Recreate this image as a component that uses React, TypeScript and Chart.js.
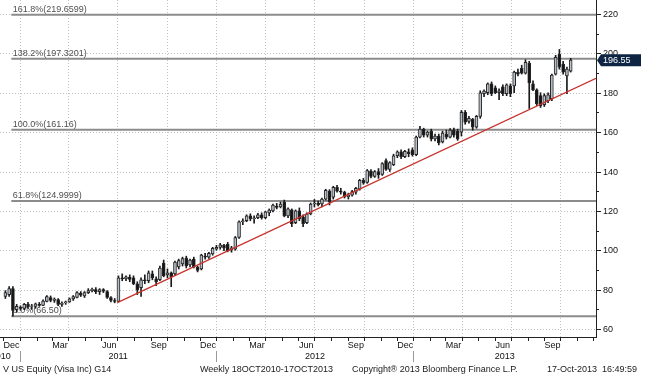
import { useEffect, useRef } from 'react';
import { Chart, registerables } from 'chart.js';

Chart.register(...registerables);

const EPOCH = Date.UTC(2011, 0, 1);
const toDay = (iso: string) => {
  const [y, m, d] = iso.split('-').map(Number);
  return (Date.UTC(y, m - 1, d) - EPOCH) / 86400000;
};

// weekly bars, week ending dates start here and step by one week
const firstWeekEnding = '2010-12-05';

const opens = [
  76.5, 77.5, 80.5, 69.8, 71.0, 70.5, 72.5, 71.5, 71.5, 72.5,
  72.0, 74.0, 76.0, 74.5, 75.0, 72.5, 73.2, 73.8, 75.3, 76.0,
  78.2, 76.8, 78.5, 79.5, 80.0, 79.0, 80.0, 79.0, 76.0, 74.5,
  74.0, 86.0, 85.5, 86.2, 86.0, 83.0, 81.0, 85.0, 84.5, 88.0,
  85.5, 85.0, 93.5, 87.5, 88.5, 88.0, 91.5, 93.0, 96.0, 92.5,
  95.5, 91.5, 90.5, 97.0, 96.5, 98.2, 100.5, 101.5, 102.5, 103.0,
  100.0, 100.5, 106.5, 114.5, 115.0, 117.5, 116.0, 116.5, 118.0, 116.5,
  119.0, 120.0, 122.5, 122.0, 124.5, 117.5, 120.5, 114.0, 120.0, 117.0,
  114.0, 118.5, 123.5, 124.0, 123.5, 126.0, 130.0, 127.0, 132.0, 130.0,
  129.5, 127.2, 128.0, 129.5, 131.0, 135.5, 134.5, 140.2, 137.5, 140.0,
  138.5, 145.5, 141.0, 143.5, 148.0, 150.0, 147.5, 150.0, 151.0, 148.5,
  157.5, 161.5, 158.5, 160.5, 156.5, 158.0, 155.0, 159.0, 157.5, 161.0,
  160.5, 160.0, 170.0, 165.5, 166.5, 162.5, 168.0, 179.5, 180.0, 184.5,
  182.5, 180.0, 183.0, 179.5, 183.5, 183.5, 190.5, 192.4, 190.0, 195.0,
  184.5, 181.5, 178.5, 174.0, 176.0, 177.0, 189.5, 199.5, 194.5, 188.5,
  191.0,
];
const highs = [
  79.5, 81.5, 81.5, 72.5, 71.8, 73.0, 73.5, 72.5, 73.2, 73.5,
  74.8, 77.0, 76.8, 75.8, 75.5, 73.8, 74.2, 75.8, 77.0, 79.0,
  79.0, 79.0, 80.5, 80.8, 81.0, 80.5, 80.5, 79.5, 76.5, 75.5,
  87.0, 88.0, 87.0, 87.5, 87.0, 84.0, 86.0, 87.5, 89.5, 89.5,
  86.5, 92.0, 95.0, 90.5, 89.0, 94.5, 95.5, 96.5, 97.0, 95.5,
  96.5, 92.0, 98.0, 98.5, 99.0, 101.5, 102.5, 103.5, 103.0, 104.0,
  102.0, 107.0, 115.0, 116.0, 118.0, 118.5, 117.5, 118.8, 119.0, 119.8,
  121.0, 123.5, 123.8, 124.5, 125.5, 121.5, 121.0, 120.5, 121.5, 118.0,
  119.0, 124.0, 125.8, 125.0, 126.5, 131.0, 130.8, 132.5, 133.0, 131.5,
  130.0, 129.0, 130.5, 132.0, 136.0, 136.5, 141.0, 141.0, 140.5, 141.5,
  144.5, 146.5, 145.0, 148.8, 150.5, 151.0, 150.8, 151.5, 152.0, 158.0,
  163.0, 162.0, 160.5, 161.5, 159.0, 159.0, 160.5, 161.0, 161.8, 162.0,
  161.5, 171.0, 171.0, 168.0, 167.0, 168.5, 181.0, 181.5, 185.0, 185.5,
  183.5, 182.0, 184.0, 184.5, 184.5, 191.0, 192.0, 194.0, 196.8, 196.0,
  186.0, 182.0, 180.0, 179.5, 180.0, 189.5, 199.0, 202.0, 196.0, 193.0,
  197.5,
];
const lows = [
  75.5, 76.5, 66.5, 68.5, 69.5, 69.8, 70.5, 70.0, 70.5, 71.5,
  71.8, 73.8, 73.8, 73.5, 71.8, 71.5, 72.5, 73.5, 74.5, 75.8,
  76.5, 76.0, 78.0, 78.8, 78.0, 77.5, 78.5, 75.5, 73.8, 73.3,
  73.8, 84.5, 84.5, 84.0, 82.5, 77.5, 76.5, 83.0, 83.5, 85.0,
  82.0, 84.5, 86.5, 86.0, 81.5, 87.5, 90.5, 92.0, 91.0, 91.5,
  91.0, 89.0, 90.0, 95.5, 95.8, 97.5, 100.0, 100.5, 99.8, 99.2,
  99.0, 100.0, 106.0, 113.0, 114.5, 115.0, 113.8, 116.0, 115.8, 116.0,
  117.5, 119.5, 121.0, 121.5, 117.0, 116.5, 112.0, 113.5, 115.0, 112.0,
  113.5, 118.0, 122.0, 122.5, 122.0, 125.5, 123.0, 126.0, 129.5, 128.5,
  126.5, 126.0, 127.5, 128.5, 130.5, 133.5, 134.0, 136.8, 137.0, 136.5,
  138.0, 140.5, 140.0, 143.0, 147.0, 146.5, 147.0, 147.5, 147.8, 148.0,
  157.0, 157.5, 157.5, 155.5, 155.5, 153.5, 154.5, 156.5, 157.0, 157.5,
  155.8, 158.0, 164.0, 164.5, 161.0, 162.0, 167.0, 178.0, 179.0, 178.5,
  179.5, 176.5, 178.5, 178.5, 178.0, 180.0, 188.5, 189.5, 189.5, 172.0,
  181.0, 173.5, 172.5, 173.0, 175.0, 176.0, 189.0, 192.0, 189.5, 179.5,
  190.5,
];
const closes = [
  78.5, 80.5, 69.5, 71.5, 70.4, 72.5, 71.2, 71.8, 72.8, 72.0,
  74.2, 76.5, 74.5, 75.2, 72.5, 73.2, 73.8, 75.3, 76.5, 78.5,
  77.2, 78.5, 79.5, 80.2, 78.8, 80.0, 79.2, 76.0, 74.5, 74.0,
  86.0, 85.5, 86.5, 85.2, 83.0, 80.0, 85.0, 84.5, 88.5, 86.0,
  84.0, 91.0, 87.0, 88.5, 86.5, 94.0, 94.8, 95.8, 92.0, 95.0,
  91.5, 89.8, 97.5, 96.5, 98.4, 101.0, 101.5, 102.8, 101.0, 99.8,
  101.2, 106.5, 114.5, 115.0, 117.5, 116.0, 116.5, 118.0, 116.5, 119.5,
  120.4, 123.0, 121.8, 123.5, 117.5, 121.0, 113.5, 120.0, 116.0, 113.5,
  118.5, 123.5, 124.0, 123.2, 126.0, 130.5, 124.5, 132.0, 130.0, 129.5,
  127.2, 128.0, 129.8, 131.5, 135.5, 134.2, 140.5, 137.5, 140.0, 138.3,
  144.0, 141.0, 144.5, 148.0, 150.0, 147.5, 150.2, 149.0, 148.5, 157.5,
  161.5, 158.5, 160.0, 156.5, 158.0, 154.5, 159.5, 157.5, 161.0, 158.5,
  156.5, 170.0, 165.0, 167.0, 162.5, 168.0, 180.0, 180.8, 184.5, 179.5,
  180.0, 181.0, 179.5, 184.0, 179.5, 190.5, 189.5, 190.0, 195.5, 185.0,
  181.5, 174.5, 173.5, 178.5, 179.0, 189.0, 198.0, 193.0, 190.5, 192.0,
  196.55,
];

const fibLabels = ['161.8%(219.6599)', '138.2%(197.3201)', '100.0%(161.16)', '61.8%(124.9999)', '0.0%(66.50)'];
const fibLevels = [219.6599, 197.3201, 161.16, 124.9999, 66.5];
const fibStartDate = '2010-12-16';

const trendDates = ['2011-07-01', '2013-12-06'];
const trendValues = [73.4, 187.3];

const yTickValues = [60, 80, 100, 120, 140, 160, 180, 200, 220];
const yMinorValues = [70, 90, 110, 130, 150, 170, 190, 210];
const monthNames = ['Jan', 'Feb', 'Mar', 'Apr', 'May', 'Jun', 'Jul', 'Aug', 'Sep', 'Oct', 'Nov', 'Dec'];
const labeledMonths = ['Dec', 'Mar', 'Jun', 'Sep'];
const yearLabels = ['2010', '2011', '2012', '2013'];
const yearSpans = [['2010-10-22', '2011-01-01'], ['2011-01-01', '2012-01-01'], ['2012-01-01', '2013-01-01'], ['2013-01-01', '2013-12-06']];
const lastPrice = 196.55;
const footerTexts = ['V US Equity (Visa Inc) G14', 'Weekly 18OCT2010-17OCT2013', 'Copyright\u00ae 2013 Bloomberg Finance L.P.', '17-Oct-2013  16:49:59'];

const X_MIN = toDay('2010-11-25');
const X_MAX = toDay('2013-12-06');
const Y_MIN = 55.94;
const Y_MAX = 227.11;

const FONT = '"Liberation Sans", Arial, sans-serif';

const weekDays = closes.map((_, i) => toDay(firstWeekEnding) + 7 * i);

const monthStarts: { day: number; name: string; next: number }[] = [];
for (let y = 2010; y <= 2013; y++) {
  for (let m = 1; m <= 12; m++) {
    const d = (Date.UTC(y, m - 1, 1) - EPOCH) / 86400000;
    const n = (Date.UTC(y, m, 1) - EPOCH) / 86400000;
    monthStarts.push({ day: d, name: monthNames[m - 1], next: n });
  }
}

const decorPlugin = {
  id: 'decor',
  beforeDatasetsDraw(chart: any) {
    const { ctx, chartArea: a, scales } = chart;
    const x = scales.x;
    const y = scales.y;
    ctx.save();
    ctx.strokeStyle = '#c2c2c2';
    ctx.lineWidth = 1;
    ctx.setLineDash([1, 2]);
    for (const v of yTickValues) {
      const py = Math.round(y.getPixelForValue(v)) + 0.5;
      ctx.beginPath();
      ctx.moveTo(a.left, py);
      ctx.lineTo(a.right, py);
      ctx.stroke();
    }
    for (const ms of monthStarts) {
      if (!['Jan', 'Apr', 'Jul', 'Oct'].includes(ms.name)) continue;
      if (ms.day <= X_MIN || ms.day >= X_MAX) continue;
      const px = Math.round(x.getPixelForValue(ms.day)) + 0.5;
      ctx.beginPath();
      ctx.moveTo(px, a.top);
      ctx.lineTo(px, a.bottom);
      ctx.stroke();
    }
    ctx.setLineDash([]);
    const fx = x.getPixelForValue(toDay(fibStartDate));
    ctx.font = `9px ${FONT}`;
    ctx.textBaseline = 'alphabetic';
    ctx.textAlign = 'left';
    fibLevels.forEach((v, i) => {
      const py = y.getPixelForValue(v);
      ctx.strokeStyle = '#8c8c8c';
      ctx.lineWidth = 2;
      ctx.beginPath();
      ctx.moveTo(fx, py);
      ctx.lineTo(a.right, py);
      ctx.stroke();
      ctx.fillStyle = '#505050';
      ctx.fillText(fibLabels[i], fx + 1.5, py - 3);
    });
    ctx.restore();
  },
  afterDraw(chart: any) {
    const { ctx, chartArea: a, scales } = chart;
    const x = scales.x;
    const y = scales.y;
    ctx.save();
    ctx.strokeStyle = '#222';
    ctx.lineWidth = 1;
    ctx.beginPath();
    ctx.moveTo(a.right + 0.5, a.top);
    ctx.lineTo(a.right + 0.5, a.bottom + 1);
    ctx.moveTo(a.left, a.bottom + 0.5);
    ctx.lineTo(a.right + 1, a.bottom + 0.5);
    ctx.stroke();
    ctx.font = `9px ${FONT}`;
    ctx.fillStyle = '#111';
    ctx.textAlign = 'left';
    ctx.textBaseline = 'middle';
    for (const v of yTickValues) {
      const py = Math.round(y.getPixelForValue(v)) + 0.5;
      ctx.beginPath();
      ctx.moveTo(a.right, py);
      ctx.lineTo(a.right + 5, py);
      ctx.stroke();
      ctx.fillText(String(v), a.right + 7, py);
    }
    for (const v of yMinorValues) {
      const py = Math.round(y.getPixelForValue(v)) + 0.5;
      ctx.beginPath();
      ctx.moveTo(a.right, py);
      ctx.lineTo(a.right + 3, py);
      ctx.stroke();
    }
    ctx.textAlign = 'center';
    for (const ms of monthStarts) {
      if (ms.day > X_MIN && ms.day < X_MAX) {
        const px = Math.round(x.getPixelForValue(ms.day)) + 0.5;
        ctx.beginPath();
        ctx.moveTo(px, a.bottom);
        ctx.lineTo(px, a.bottom + 4);
        ctx.stroke();
      }
      if (labeledMonths.includes(ms.name) && ms.day >= X_MIN && ms.next <= X_MAX) {
        const cx = (x.getPixelForValue(ms.day) + x.getPixelForValue(ms.next)) / 2;
        ctx.fillText(ms.name, cx, a.bottom + 9);
      }
    }
    yearLabels.forEach((t, i) => {
      const s = toDay(yearSpans[i][0]);
      const e = toDay(yearSpans[i][1]);
      const cx = (x.getPixelForValue(s) + x.getPixelForValue(e)) / 2;
      ctx.fillStyle = '#111';
      ctx.fillText(t, cx, a.bottom + 20);
      if (i > 0) {
        const px = Math.round(x.getPixelForValue(s)) + 0.5;
        ctx.strokeStyle = '#999';
        ctx.beginPath();
        ctx.moveTo(px, a.bottom + 14);
        ctx.lineTo(px, a.bottom + 25);
        ctx.stroke();
      }
    });
    ctx.textAlign = 'left';
    ctx.fillStyle = '#1a1a1a';
    const fxs = [3, 200, 352, 547];
    footerTexts.forEach((t, i) => ctx.fillText(t, fxs[i], a.bottom + 33));
    const ty = y.getPixelForValue(lastPrice);
    ctx.fillStyle = '#0d2442';
    ctx.beginPath();
    ctx.moveTo(a.right + 1, ty);
    ctx.lineTo(a.right + 5, ty - 6);
    ctx.lineTo(a.right + 45, ty - 6);
    ctx.lineTo(a.right + 45, ty + 6);
    ctx.lineTo(a.right + 5, ty + 6);
    ctx.closePath();
    ctx.fill();
    ctx.fillStyle = '#fff';
    ctx.font = `9px ${FONT}`;
    ctx.textBaseline = 'middle';
    ctx.fillText(lastPrice.toFixed(2), a.right + 7, ty + 0.5);
    ctx.restore();
  },
};

export default function App() {
  const ref = useRef<HTMLCanvasElement | null>(null);
  useEffect(() => {
    if (!ref.current) return;
    const wicks = weekDays.map((d, i) => ({ x: d, y: [lows[i], highs[i]] }));
    const bodies = weekDays.map((d, i) => ({ x: d, y: [opens[i], closes[i]] }));
    const bodyColors = closes.map((c, i) => (c >= opens[i] ? '#b7bfc8' : '#151515'));
    const chart = new Chart(ref.current, {
      type: 'bar',
      data: {
        datasets: [
          {
            type: 'line',
            data: trendDates.map((d, i) => ({ x: toDay(d), y: trendValues[i] })),
            borderColor: '#c8322c',
            borderWidth: 1.3,
            pointRadius: 0,
            order: 0,
          } as any,
          {
            data: bodies as any,
            backgroundColor: bodyColors,
            borderColor: '#262626',
            borderWidth: 1,
            borderSkipped: false,
            barThickness: 3,
            grouped: false,
            order: 1,
          } as any,
          {
            data: wicks as any,
            backgroundColor: '#1a1a1a',
            borderWidth: 0,
            barThickness: 1,
            grouped: false,
            order: 2,
          } as any,
        ],
      },
      options: {
        responsive: false,
        animation: false,
        devicePixelRatio: 1,
        events: [],
        layout: { padding: { left: 0, top: 0, right: 49, bottom: 39 } },
        plugins: { legend: { display: false }, tooltip: { enabled: false } },
        scales: {
          x: { type: 'linear', min: X_MIN, max: X_MAX, display: false, offset: false },
          y: { type: 'linear', min: Y_MIN, max: Y_MAX, display: false },
        },
      } as any,
      plugins: [decorPlugin],
    });
    return () => chart.destroy();
  }, []);
  return (
    <div style={{ position: 'fixed', left: 0, top: 0, width: 645, height: 376, background: '#fff' }}>
      <canvas ref={ref} width={645} height={376} style={{ display: 'block', width: 645, height: 376 }} />
    </div>
  );
}
